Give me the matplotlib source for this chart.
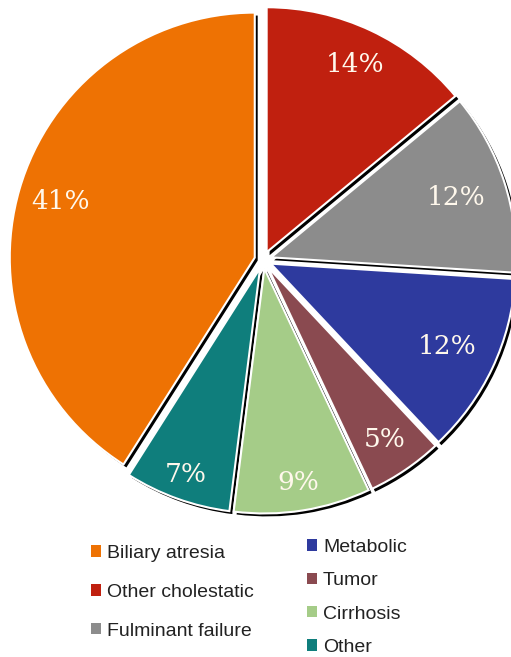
import numpy as np
import matplotlib.pyplot as plt
from matplotlib.patches import Patch

# data
labels = ['Other cholestatic', 'Fulminant failure', 'Metabolic', 'Tumor',
          'Cirrhosis', 'Other', 'Biliary atresia']
values = [14, 12, 12, 5, 9, 7, 41]
colors = ['#C0200F', '#8C8C8C', '#2E3A9E', '#8A4A50', '#A5CC88', '#0F7E7C', '#EE7203']

left_items = ['Biliary atresia', 'Other cholestatic', 'Fulminant failure']
right_items = ['Metabolic', 'Tumor', 'Cirrhosis', 'Other']

W, H = 511, 657
fig = plt.figure(figsize=(W / 100, H / 100), dpi=100)

# pie axes: radius 1 -> 245 px, center at (263, 260) px from top-left
R = 245
cx, cy = 263, 260
lim = 1.12
aw = 2 * lim * R
ax = fig.add_axes([(cx - aw / 2) / W, (H - cy - aw / 2) / H, aw / W, aw / H])

explode = [0.035] * len(values)

# black shadow, shifted slightly right/down
ax.pie(values, colors=['black'] * len(values), startangle=90, counterclock=False,
       explode=explode, center=(0.012, -0.012), frame=True,
       wedgeprops=dict(linewidth=0))
wedges, _ = ax.pie(values, colors=colors, startangle=90, counterclock=False,
                   explode=explode, frame=True,
                   wedgeprops=dict(edgecolor='white', linewidth=1.5))
ax.set_xlim(-lim, lim)
ax.set_ylim(-lim, lim)
ax.set_aspect('equal')
ax.axis('off')

dist = [0.88, 0.83, 0.83, 0.885, 0.92, 0.93, 0.86]
for w, v, d in zip(wedges, values, dist):
    th = np.deg2rad((w.theta1 + w.theta2) / 2)
    ax.text(d * np.cos(th), d * np.sin(th), f'{v}%', color='#FFF8EC',
            fontsize=19, family='DejaVu Serif', ha='center', va='center')

lab_color = dict(zip(labels, colors))
h_left = [Patch(facecolor=lab_color[n], edgecolor='none') for n in left_items]
h_right = [Patch(facecolor=lab_color[n], edgecolor='none') for n in right_items]

leg_kw = dict(frameon=False, handlelength=0.52, handleheight=0.52,
              handletextpad=0.3, borderpad=0, borderaxespad=0,
              prop={'family': 'Liberation Sans', 'size': 14})
fig.legend(h_left, left_items, loc='upper left', labelcolor='#222222',
           bbox_to_anchor=(91 / W, 1 - 545 / H), labelspacing=1.12, **leg_kw)
fig.legend(h_right, right_items, loc='upper left', labelcolor='#222222',
           bbox_to_anchor=(307 / W, 1 - 539 / H), labelspacing=0.84, **leg_kw)

fig.savefig('out.png', dpi=100)
